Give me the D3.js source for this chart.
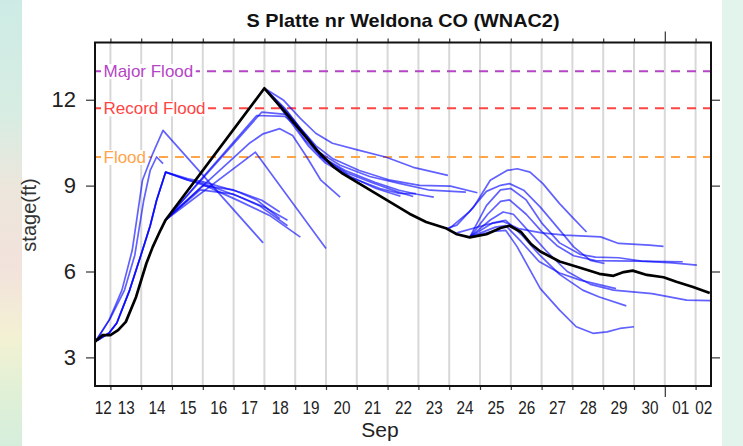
<!DOCTYPE html>
<html>
<head>
<meta charset="utf-8">
<title>S Platte nr Weldona CO (WNAC2)</title>
<style>
  body { margin: 0; background: #fff; }
  svg { display: block; font-family: "Liberation Sans", Arial, sans-serif; }
  .grid line { stroke: #d8d8d8; stroke-width: 2; }
  .fcst { fill: none; stroke: #0000ff; stroke-opacity: 0.62; stroke-width: 1.7; stroke-linejoin: round; }
  .obs { fill: none; stroke: #000; stroke-width: 2.7; stroke-linejoin: round; }
  .axis line { stroke: #333; stroke-width: 1.2; }
  .axis text { fill: #222; }
</style>
</head>
<body>
<svg width="743" height="446"></svg>
<script src="https://d3js.org/d3.v7.min.js"></script>
<script>

// ---- data (times are 2013, "mm-dd HH") ----
var observed = [
  ["09-12 12",3.55],["09-12 18",3.78],["09-13 00",3.78],["09-13 06",3.95],["09-13 12",4.24],
  ["09-13 20",5.11],["09-14 04",6.28],["09-14 09",6.86],["09-14 15",7.44],["09-14 19",7.8],
  ["09-18 00",12.4],["09-18 15",11.63],["09-19 04",10.93],["09-19 17",10.23],["09-20 06",9.65],
  ["09-20 13",9.42],["09-21 02",9.07],["09-21 15",8.72],["09-22 04",8.37],["09-22 17",8.02],
  ["09-23 06",7.73],["09-23 22",7.5],["09-24 06",7.3],["09-24 16",7.19],["09-25 05",7.3],
  ["09-25 16",7.52],["09-25 23",7.6],["09-26 08",7.38],["09-26 16",6.95],["09-26 23",6.7],
  ["09-27 14",6.35],["09-28 06",6.13],["09-28 21",5.92],["09-29 08",5.85],["09-29 16",5.98],
  ["09-29 23",6.03],["09-30 10",5.88],["09-30 23",5.8],["10-01 09",5.64],["10-01 22",5.46],
  ["10-02 11",5.25]
];

// forecast traces, one array per forecast issuance
var forecasts = [
  [["09-12 13",3.6],["09-12 23",4.3],["09-13 09",5.35],["09-13 17",6.74],["09-14 01",9.19],["09-14 09",10.12],["09-14 17",10.93],["09-17 23",7.0]],
  [["09-12 13",3.6],["09-13 00",4.37],["09-13 11",5.35],["09-13 19",6.57],["09-14 02",8.49],["09-14 07",9.53],["09-14 12",10.0],["09-14 17",9.77]],
  [["09-12 14",3.6],["09-12 23",3.85],["09-13 05",4.2],["09-13 15",5.35],["09-14 01",6.74],["09-14 07",7.6],["09-14 12",8.49],["09-14 19",9.47],["09-15 12",9.25],["09-16 01",9.12],["09-17 05",8.77],["09-17 22",8.49],["09-18 12",8.08]],
  [["09-12 14",3.6],["09-12 23",3.85],["09-13 05",4.2],["09-13 15",5.35],["09-14 01",6.74],["09-14 07",7.6],["09-14 12",8.49],["09-14 19",9.47],["09-15 12",9.2],["09-16 02",9.05],["09-17 05",8.6],["09-18 00",8.25],["09-18 18",7.79]],
  [["09-12 14",3.6],["09-12 23",3.85],["09-13 05",4.2],["09-13 15",5.35],["09-14 01",6.74],["09-14 07",7.6],["09-14 12",8.49],["09-14 19",9.47],["09-15 12",9.2],["09-16 02",9.0],["09-17 05",8.45],["09-18 04",7.96],["09-19 04",7.2]],
  [["09-14 19",7.8],["09-17 22",11.57],["09-18 19",11.48],["09-19 09",10.75],["09-19 23",9.88],["09-20 19",9.32],["09-21 15",8.9],["09-22 10",8.63]],
  [["09-14 19",7.8],["09-17 18",11.45],["09-18 16",11.42],["09-19 05",10.9],["09-19 20",10.0],["09-20 16",9.45],["09-21 12",9.1],["09-22 08",8.78],["09-22 20",8.62]],
  [["09-14 19",7.8],["09-17 17",10.17],["09-20 00",6.8]],
  [["09-14 19",7.8],["09-17 12",10.47],["09-17 23",10.81],["09-18 12",10.99],["09-18 22",10.75],["09-19 09",10.0],["09-19 20",9.19],["09-20 11",8.6]],
  [["09-14 19",7.8],["09-16 00",9.0],["09-17 00",8.85],["09-17 18",8.5],["09-18 12",7.85]],
  [["09-14 19",7.8],["09-15 22",8.85],["09-17 00",8.7],["09-17 20",8.3],["09-18 18",7.6]],
  [["09-18 00",12.4],["09-18 15",11.98],["09-19 04",11.35],["09-19 16",10.83],["09-20 05",10.48],["09-21 02",10.23],["09-21 23",9.99],["09-22 20",9.64],["09-23 23",9.36]],
  [["09-18 02",12.32],["09-18 16",11.7],["09-19 04",11.0],["09-19 16",10.4],["09-20 05",9.95],["09-21 02",9.53],["09-22 02",9.19],["09-23 01",9.01],["09-24 01",8.98],["09-24 22",8.75]],
  [["09-18 03",12.28],["09-18 18",11.56],["09-19 08",10.75],["09-19 19",10.16],["09-20 11",9.71],["09-21 10",9.32],["09-22 09",9.08],["09-23 09",8.84],["09-24 13",8.77]],
  [["09-18 05",12.15],["09-18 20",11.35],["09-19 08",10.58],["09-19 21",9.99],["09-20 15",9.53],["09-21 14",9.12],["09-22 09",8.84],["09-22 23",8.7],["09-23 12",8.6]],
  [["09-18 07",12.05],["09-18 21",11.2],["09-19 10",10.4],["09-19 23",9.81],["09-20 19",9.29],["09-21 18",8.9],["09-22 09",8.73],["09-22 22",8.72]],
  [["09-23 22",7.5],["09-24 06",7.62],["09-24 19",8.25],["09-25 08",9.19],["09-25 21",9.53],["09-26 05",9.59],["09-26 15",9.47],["09-27 01",9.07],["09-27 14",8.37],["09-28 01",7.85],["09-28 11",7.38]],
  [["09-24 00",7.5],["09-24 16",8.1],["09-25 05",8.8],["09-25 16",9.01],["09-25 23",9.07],["09-26 10",8.84],["09-26 23",8.25],["09-27 12",7.56],["09-28 01",6.86],["09-28 14",6.39],["09-29 01",6.28]],
  [["09-24 16",7.2],["09-25 05",8.3],["09-25 16",8.85],["09-26 00",8.9],["09-26 12",8.5],["09-27 00",7.7],["09-27 14",7.0],["09-28 06",6.6],["09-28 18",6.5],["09-29 12",6.48],["09-30 06",6.36],["10-01 06",6.3],["10-02 01",6.22]],
  [["09-24 16",7.2],["09-25 06",8.0],["09-25 16",8.45],["09-25 23",8.5],["09-26 12",8.0],["09-27 00",7.4],["09-27 12",6.9],["09-28 01",6.55],["09-28 18",6.38],["09-30 00",6.36],["10-01 14",6.34]],
  [["09-24 16",7.2],["09-25 08",7.8],["09-25 18",8.08],["09-26 02",8.0],["09-26 14",7.4],["09-27 04",6.7],["09-27 20",6.0],["09-28 14",5.55],["09-29 08",5.35],["09-29 23",5.29],["09-30 14",5.23],["10-01 17",5.0],["10-02 12",4.98]],
  [["09-24 16",7.2],["09-25 10",7.7],["09-25 20",7.79],["09-26 08",7.3],["09-26 22",6.6],["09-27 14",5.9],["09-28 08",5.35],["09-28 21",5.11],["09-29 18",4.8]],
  [["09-24 16",7.2],["09-25 10",7.4],["09-25 20",7.44],["09-26 05",6.86],["09-26 23",5.4],["09-27 14",4.65],["09-28 03",4.07],["09-28 16",3.84],["09-29 03",3.89],["09-29 13",4.01],["09-30 00",4.07]],
  [["09-24 06",7.35],["09-25 06",7.65],["09-25 18",7.75],["09-26 06",7.5],["09-27 00",7.35],["09-27 18",7.27],["09-28 22",7.21],["09-29 12",6.98],["09-30 12",6.92],["09-30 23",6.88]],
  [["09-24 16",7.2],["09-25 12",7.55],["09-25 20",7.6],["09-26 08",7.05],["09-26 22",6.35],["09-27 14",5.95],["09-28 06",5.7],["09-29 10",5.4]]
];

var floodNames  = ["Major Flood", "Record Flood", "Flood"];
var floodStages = [13, 11.7, 10];

var yTicks    = [3, 6, 9, 12];
var dayLabels = ["12","13","14","15","16","17","18","19","20","21","22","23","24","25","26","27","28","29","30","01","02"];

// ---- setup ----
var svg = d3.select("svg");
var parse = d3.timeParse("%Y-%m-%d %H");
var t = function(s) { return parse("2013-" + s); };

var pL = 95, pR = 711, pT = 42.5, pB = 386;   // plot box
var tStart = t("09-12 12"), tEnd = t("10-02 12");

var x = d3.scaleTime().domain([tStart, tEnd]).range([pL, pR]);
var y = d3.scaleLinear().domain([2, 14]).range([pB, pT]);

var floodColor = d3.scaleOrdinal(floodNames, ["#b545c6", "#ff4444", "#ffa54a"]);

// side strips of the page background
var defs = svg.append("defs");
var grad = defs.append("linearGradient").attr("id", "strip")
    .attr("x1", 0).attr("y1", 0).attr("x2", 0).attr("y2", 1);
[["0", "#cdebe5"], ["0.25", "#d7ede3"], ["0.42", "#ece6dc"], ["0.6", "#f2e2dc"],
 ["0.76", "#f3f1d3"], ["0.88", "#e0f0d6"], ["1", "#d5eedc"]].forEach(function(s) {
  grad.append("stop").attr("offset", s[0]).attr("stop-color", s[1]);
});
svg.append("rect").attr("x", 0).attr("y", 0).attr("width", 22).attr("height", 446).attr("fill", "url(#strip)");
svg.append("rect").attr("x", 722).attr("y", 0).attr("width", 21).attr("height", 446).attr("fill", "#e3f4ec");

defs.append("clipPath").attr("id", "plot")
  .append("rect").attr("x", pL).attr("y", pT).attr("width", pR - pL).attr("height", pB - pT);

// day boundaries and label positions (middle of the visible part of each day)
var bounds = d3.timeDay.range(d3.timeDay.ceil(tStart), tEnd);
var labelTimes = d3.timeDay.range(d3.timeDay.floor(tStart), tEnd).map(function(d) {
  var a = d < tStart ? tStart : d;
  var b = d3.timeDay.offset(d, 1);
  if (b > tEnd) b = tEnd;
  return new Date((+a + +b) / 2);
});

// vertical grid
svg.append("g").attr("class", "grid")
  .selectAll("line").data(bounds).enter().append("line")
    .attr("x1", function(d) { return x(d); }).attr("x2", function(d) { return x(d); })
    .attr("y1", pT).attr("y2", pB);

// flood stage lines, label sits on a white patch that breaks the dashes
var flood = svg.append("g");
flood.selectAll("line").data(floodNames).enter().append("line")
  .attr("x1", pL).attr("x2", pR)
  .attr("y1", function(d, i) { return y(floodStages[i]); })
  .attr("y2", function(d, i) { return y(floodStages[i]); })
  .attr("stroke", function(d) { return floodColor(d); })
  .attr("stroke-width", 2)
  .attr("stroke-dasharray", "9,7");
var labels = flood.selectAll("g.lab").data(floodNames).enter().append("g").attr("class", "lab");
labels.append("rect").attr("fill", "#fff");
labels.append("text")
  .attr("x", 103.5)
  .attr("y", function(d, i) { return y(floodStages[i]); })
  .attr("dy", "0.35em")
  .attr("font-size", 17)
  .attr("fill", function(d) { return floodColor(d); })
  .text(function(d) { return d; });
labels.each(function() {
  var g = d3.select(this), b = g.select("text").node().getBBox();
  g.select("rect").attr("x", b.x - 2.5).attr("y", b.y + 2).attr("width", b.width + 5).attr("height", b.height - 4);
});

// lines
var line = d3.line()
  .x(function(d) { return x(t(d[0])); })
  .y(function(d) { return y(d[1]); });

var plot = svg.append("g").attr("clip-path", "url(#plot)");
plot.selectAll(".fcst").data(forecasts).enter().append("path")
  .attr("class", "fcst")
  .attr("d", line);
plot.append("path").datum(observed)
  .attr("class", "obs")
  .attr("d", line);

// axes
var monthTick = function(sel, len) {
  sel.selectAll(".tick line")
    .filter(function(d) { return d.getDate() === 1; })
    .attr("y2", len);
};

svg.append("g").attr("class", "axis")
  .attr("transform", "translate(0," + pB + ")")
  .call(d3.axisBottom(x).tickValues(bounds).tickSize(4).tickFormat(""))
  .call(function(g) { g.select(".domain").remove(); monthTick(g, 11); });

svg.append("g").attr("class", "axis")
  .attr("transform", "translate(0," + pT + ")")
  .call(d3.axisTop(x).tickValues(bounds).tickSize(4).tickFormat(""))
  .call(function(g) { g.select(".domain").remove(); monthTick(g, -11); });

svg.append("g").attr("class", "axis")
  .attr("transform", "translate(0," + pB + ")")
  .call(d3.axisBottom(x).tickValues(labelTimes).tickSize(0).tickPadding(15)
    .tickFormat(function(d, i) { return dayLabels[i]; }))
  .call(function(g) {
    g.select(".domain").remove();
    g.selectAll("text").attr("font-size", 18).attr("transform", "scale(0.85,1)");
  });

svg.append("g").attr("class", "axis")
  .attr("transform", "translate(" + pL + ",0)")
  .call(d3.axisLeft(y).tickValues(yTicks).tickSize(9).tickPadding(10))
  .call(function(g) {
    g.select(".domain").remove();
    g.selectAll("text").attr("font-size", 22);
  });

svg.append("g").attr("class", "axis")
  .attr("transform", "translate(" + pR + ",0)")
  .call(d3.axisRight(y).tickValues(yTicks).tickSize(9).tickFormat(""))
  .call(function(g) { g.select(".domain").remove(); });

// frame
svg.append("rect")
  .attr("x", pL).attr("y", pT)
  .attr("width", pR - pL).attr("height", pB - pT)
  .attr("fill", "none").attr("stroke", "#111").attr("stroke-width", 2);

// titles
svg.append("text")
  .attr("x", (pL + pR) / 2).attr("y", 27)
  .attr("text-anchor", "middle")
  .attr("font-size", 19).attr("font-weight", "bold")
  .attr("textLength", 313).attr("lengthAdjust", "spacingAndGlyphs")
  .attr("fill", "#111")
  .text("S Platte nr Weldona CO (WNAC2)");

svg.append("text")
  .attr("x", 380).attr("y", 437)
  .attr("text-anchor", "middle")
  .attr("font-size", 21)
  .attr("fill", "#222")
  .text("Sep");

svg.append("text")
  .attr("transform", "translate(36,215) rotate(-90)")
  .attr("text-anchor", "middle")
  .attr("font-size", 20)
  .attr("fill", "#333")
  .text("stage(ft)");

</script>
</body>
</html>
